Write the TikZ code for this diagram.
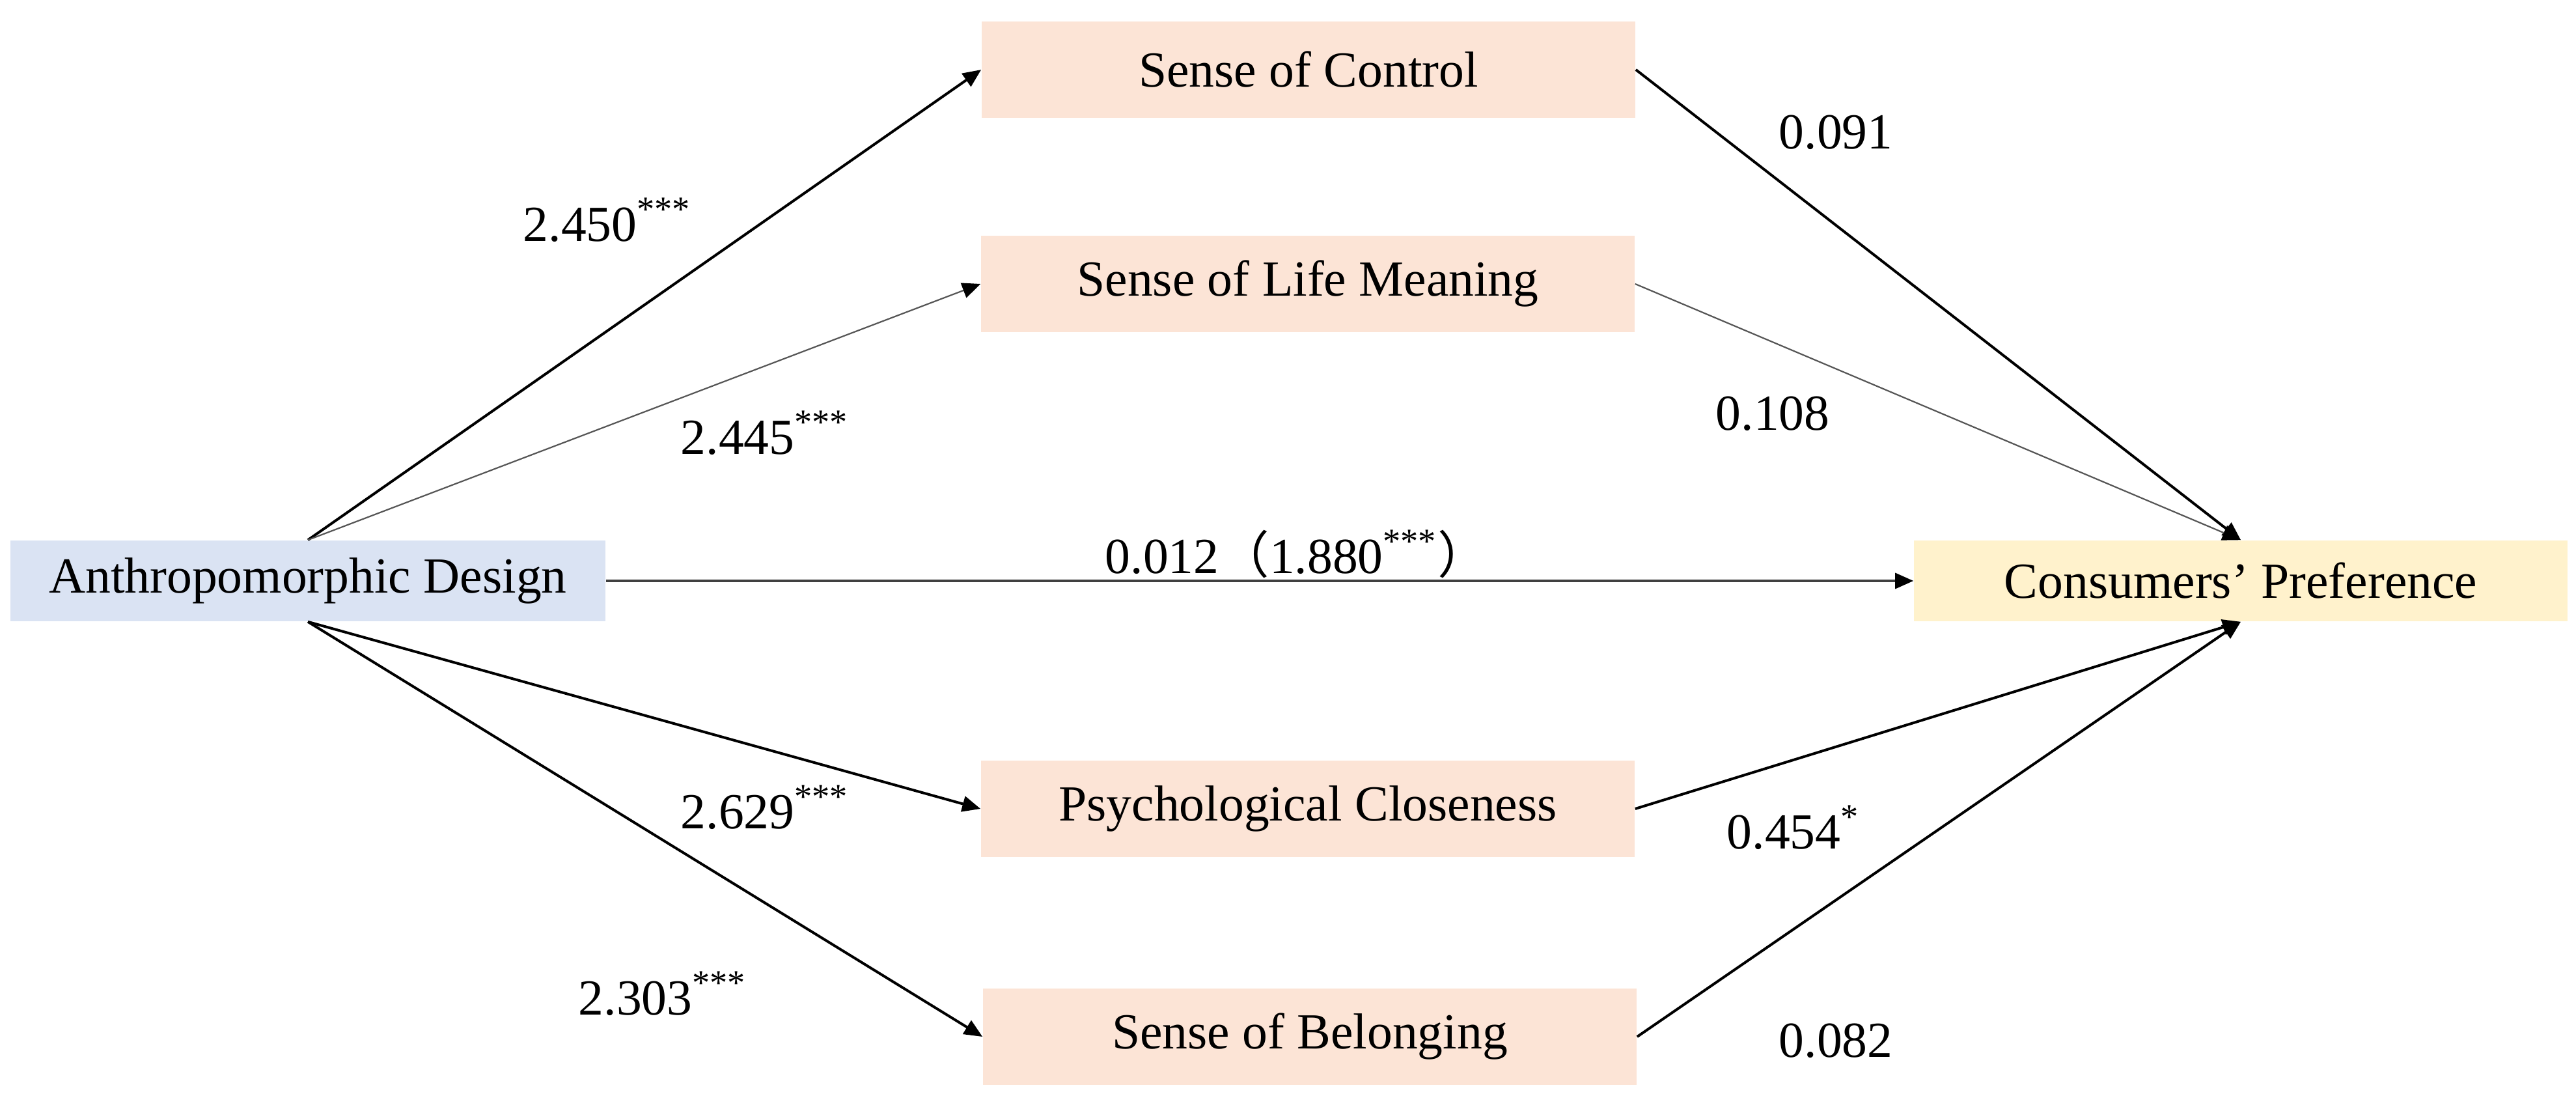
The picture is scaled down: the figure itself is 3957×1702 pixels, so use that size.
\documentclass[tikz,border=0pt]{standalone}
\usepackage{fontspec}
\setmainfont{Liberation Serif}
\newfontfamily\cjk{Noto Sans CJK SC}
\usetikzlibrary{arrows.meta}
\definecolor{peach}{HTML}{FCE4D6}
\definecolor{bluebox}{HTML}{DAE3F3}
\definecolor{goldbox}{HTML}{FFF2CC}
\definecolor{thingray}{HTML}{555555}
\definecolor{midgray}{HTML}{404040}
\begin{document}
\begin{tikzpicture}[x=0.25pt,y=-0.25pt,
  txt/.style={font=\fontsize{19.4}{23}\selectfont},
  box/.style={rectangle, inner sep=0pt, txt},
  medbox/.style={box, fill=peach, minimum width=251pt, minimum height=37pt},
  lab/.style={inner sep=0pt, anchor=base west, txt},
  tipshape/.style={-{Triangle[length=7pt,width=6pt,color=black]}},
  thickarr/.style={line width=1pt, draw=black, tipshape},
  thinarr/.style={line width=0.55pt, draw=thingray, tipshape},
  midarr/.style={line width=0.8pt, draw=midgray, tipshape}
]
\useasboundingbox[fill=white] (0,0) rectangle (3957,1702);

% main nodes
\node[box, fill=bluebox, minimum width=228.5pt, minimum height=31pt] (AD) at (473,892) {Anthropomorphic Design};
\node[box, fill=goldbox, minimum width=251pt, minimum height=31pt] (CP) at (3442,892) {Consumers’ Preference};
\node[medbox] (SC)  at (2010,107)  {Sense of Control};
\node[medbox] (SLM) at (2009,436)  {Sense of Life Meaning};
\node[medbox] (PC)  at (2009,1242) {Psychological Closeness};
\node[medbox] (SB)  at (2012,1592) {Sense of Belonging};

% connectors
\draw[thickarr] (AD.north) -- (SC.west);
\draw[thinarr]  (AD.north) -- (SLM.west);
\draw[thickarr] (AD.south) -- (PC.west);
\draw[thickarr] (AD.south) -- (SB.west);
\draw[thickarr] (SC.east) -- (CP.north);
\draw[thinarr]  (SLM.east) -- (CP.north);
\draw[thickarr] (PC.east) -- (CP.south);
\draw[thickarr] (SB.east) -- (CP.south);
\draw[midarr]   (AD.east) -- (CP.west);

% labels
\node[lab] (l1) at (803,370)   {2.450\textsuperscript{***}};
\node[lab] (l2) at (1045,697)  {2.445\textsuperscript{***}};
\node[lab] (l3) at (1697,880)  {0.012{\cjk （}1.880\textsuperscript{***}{\cjk ）}};
\node[lab] (l4) at (2732,228)  {0.091};
\node[lab] (l5) at (2635,660)  {0.108};
\node[lab] (l6) at (1045,1272) {2.629\textsuperscript{***}};
\node[lab] (l7) at (888,1558)  {2.303\textsuperscript{***}};
\node[lab] (l8) at (2652,1303) {0.454\textsuperscript{*}};
\node[lab] (l9) at (2732,1623) {0.082};
\end{tikzpicture}
\end{document}
